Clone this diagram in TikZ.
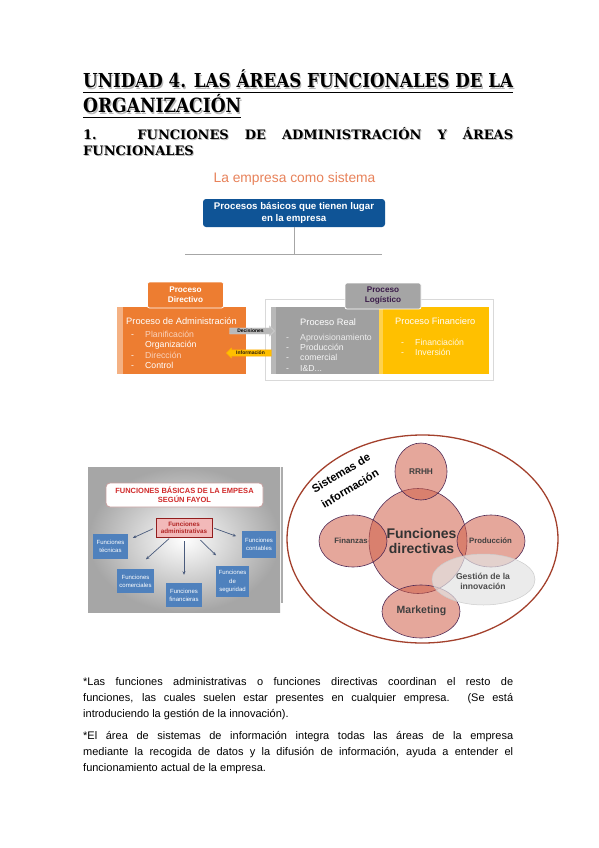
\documentclass[tikz,border=0pt]{standalone}
\usepackage{fontspec}
\setmainfont{Liberation Sans}
\newfontfamily\headfont{DejaVu Serif}
\usetikzlibrary{shapes.arrows,shapes.geometric,arrows.meta}
\definecolor{orgtitle}{HTML}{E8825A}
\definecolor{boxblue}{HTML}{0F5496}
\definecolor{orangeA}{HTML}{ED7D31}
\definecolor{orangeL}{HTML}{F4B183}
\definecolor{grayA}{HTML}{A5A5A5}
\definecolor{grayR}{HTML}{A0A0A0}
\definecolor{grayL}{HTML}{B8B8B8}
\definecolor{yellowA}{HTML}{FFC000}
\definecolor{yellowL}{HTML}{FFD24D}
\definecolor{logtext}{HTML}{3B1C4A}
\definecolor{fblue}{HTML}{4F81BD}
\definecolor{fred}{HTML}{D02A2A}
\definecolor{fpink}{HTML}{F2B9B9}
\definecolor{farrow}{HTML}{4A5B7C}
\definecolor{ringc}{HTML}{A3402C}
\definecolor{circfill}{HTML}{D0604A}
\definecolor{circline}{HTML}{4F2A55}
\definecolor{fadetext}{HTML}{F9D2BC}
\begin{document}
\begin{tikzpicture}[x=1pt,y=-1pt,
  head/.style={inner sep=0pt, anchor=base west, font=\headfont\bfseries},
  body/.style={inner sep=0pt, anchor=north west, text width=430pt, align=justify, font=\fontsize{11}{16}\selectfont},
  conn/.style={draw=gray!70, line width=0.8pt},
  bluebox/.style={rectangle, rounded corners=3pt, fill=boxblue, text=white, font=\bfseries\fontsize{9.7}{11.5}\selectfont, align=center, minimum width=182pt, minimum height=28pt, inner sep=0pt},
  tabbox/.style={rectangle, rounded corners=2pt, draw=white, line width=0.8pt, font=\bfseries\fontsize{8.2}{10}\selectfont, align=center, minimum width=76pt, minimum height=26pt, inner sep=0pt},
  panel/.style={rectangle, minimum height=67pt, inner sep=0pt},
  ptitle/.style={inner sep=0pt, anchor=base west, font=\fontsize{9.3}{11}\selectfont},
  pitem/.style={inner sep=0pt, anchor=base west, font=\fontsize{8.7}{10}\selectfont},
  flow/.style={single arrow, single arrow head extend=2pt, minimum height=45pt, inner sep=1pt, font=\bfseries\fontsize{5}{6}\selectfont},
  ftitle/.style={rectangle, rounded corners=4pt, fill=white, draw=fred!40!gray!60, line width=0.8pt, text=fred, font=\bfseries\fontsize{7.5}{9}\selectfont, align=center, minimum width=157pt, minimum height=24pt, inner sep=0pt},
  fadm/.style={rectangle, fill=fpink, draw=fred!70!black, line width=0.5pt, text=fred!85!black, font=\bfseries\fontsize{6.3}{7.5}\selectfont, align=center, minimum width=56pt, minimum height=19pt, inner sep=0pt},
  fbox/.style={rectangle, fill=fblue, text=white, font=\fontsize{6}{8.3}\selectfont, align=center, inner sep=0pt},
  farr/.style={draw=farrow, line width=0.7pt, -{Stealth[length=3.5pt,width=3pt]}},
  ring/.style={ellipse, draw=ringc, line width=1.3pt, fill=white, inner sep=0pt},
  circ/.style={ellipse, draw=circline, line width=0.6pt, fill=circfill, fill opacity=0.55, inner sep=0pt},
  gest/.style={ellipse, draw=gray!40, line width=0.5pt, fill=gray!22, fill opacity=0.7, inner sep=0pt},
  clab/.style={inner sep=0pt, text=black!75, font=\bfseries\fontsize{7.8}{9}\selectfont, align=center},
  sislab/.style={inner sep=0pt, rotate=31, font=\bfseries\fontsize{11.3}{13}\selectfont}
]
\useasboundingbox[fill=white] (0,0) rectangle (599,848);

% ---------- headings ----------
\node[head, text=gray!55] (h1s) at (84.2,89.2) {\resizebox{430pt}{!}{\scalebox{1}[1.15]{UNIDAD 4. LAS ÁREAS FUNCIONALES DE LA}}};
\node[head] (h1) at (83,88) {\resizebox{430pt}{!}{\scalebox{1}[1.15]{UNIDAD 4. LAS ÁREAS FUNCIONALES DE LA}}};
\node[head, text=gray!55] (h2s) at (84.2,114.2) {\resizebox{158pt}{!}{\scalebox{1}[1.15]{ORGANIZACIÓN}}};
\node[head] (h2) at (83,113) {\resizebox{158pt}{!}{\scalebox{1}[1.15]{ORGANIZACIÓN}}};
\coordinate (u1a) at (83,92.5); \coordinate (u1b) at (513,92.5);
\coordinate (u2a) at (83,117.5); \coordinate (u2b) at (241,117.5);
\draw[line width=1.3pt] (u1a) -- (u1b);
\draw[line width=1.3pt] (u2a) -- (u2b);
\node[inner sep=0pt, anchor=north west, text width=430pt, align=justify, text=gray!55, font=\headfont\bfseries\fontsize{13}{16}\selectfont] (h3s) at (84,127.8) {1. FUNCIONES DE ADMINISTRACIÓN Y ÁREAS\linebreak FUNCIONALES};
\node[inner sep=0pt, anchor=north west, text width=430pt, align=justify, font=\headfont\bfseries\fontsize{13}{16}\selectfont] (h3) at (83,127) {1. FUNCIONES DE ADMINISTRACIÓN Y ÁREAS\linebreak FUNCIONALES};

% ---------- la empresa como sistema ----------
\node[inner sep=0pt, text=orgtitle, font=\fontsize{13.8}{16}\selectfont] (sys) at (294.5,178.5) {La empresa como sistema};
\node[bluebox] (pb) at (294,213) {Procesos básicos que tienen lugar\\en la empresa};
\coordinate (hm) at (294,254);
\coordinate (hl) at (185,254);
\coordinate (hr) at (382,254);
\draw[conn] (pb.south) -- (hm);
\draw[conn] (hl) -- (hr);

\node[rectangle, draw=gray!30, line width=0.6pt, fill=white, minimum width=228pt, minimum height=81pt, inner sep=0pt] (frame) at (379,339.5) {};

\node[panel, fill=orangeA, minimum width=129pt] (adm) at (181.5,340.5) {};
\fill[orangeL] (117,307) rectangle (122.5,374);
\node[panel, fill=grayR, minimum width=108pt] (real) at (325,340.5) {};
\fill[grayL] (271,307) rectangle (275.5,374);
\node[panel, fill=yellowA, minimum width=110pt] (fin) at (434,340.5) {};
\fill[yellowL] (379,307) rectangle (383,374);

\node[tabbox, fill=orangeA, text=white] (pdir) at (185.5,295) {Proceso\\Directivo};
\node[tabbox, fill=grayA, text=logtext] (plog) at (383,296) {Proceso\\Logístico};

\node[ptitle, text=white] (admt) at (126,324.5) {Proceso de Administración};
\node[pitem, text=white] (adb1) at (131,337) {-};
\node[pitem, text=fadetext] (adi1) at (145,337) {Planificación};
\node[pitem, text=white] (adi2) at (145,347.5) {Organización};
\node[pitem, text=white] (adb3) at (131,358) {-};
\node[pitem, text=fadetext] (adi3) at (145,358) {Dirección};
\node[pitem, text=white] (adb4) at (131,368.5) {-};
\node[pitem, text=white] (adi4) at (145,368.5) {Control};

\node[ptitle, text=white] (realt) at (300,325) {Proceso Real};
\node[pitem, text=white!85!gray] (rb1) at (286,340) {-};
\node[pitem, text=white!85!gray] (ri1) at (300,340) {Aprovisionamiento};
\node[pitem, text=white!92!gray] (rb2) at (286,350) {-};
\node[pitem, text=white!92!gray] (ri2) at (300,350) {Producción};
\node[pitem, text=white!92!gray] (rb3) at (286,360.5) {-};
\node[pitem, text=white!92!gray] (ri3) at (300,360.5) {comercial};
\node[pitem, text=white!92!gray] (rb4) at (286,371) {-};
\node[pitem, text=white!92!gray] (ri4) at (300,371) {I\&D...};

\node[ptitle, text=white] (fint) at (395,324.5) {Proceso Financiero};
\node[pitem, text=white] (fb1) at (401,345) {-};
\node[pitem, text=white!90!yellowA] (fi1) at (415,345) {Financiación};
\node[pitem, text=white] (fb2) at (401,355.5) {-};
\node[pitem, text=white!90!yellowA] (fi2) at (415,355.5) {Inversión};

\node[flow, fill=gray!55, draw=gray!35, text=black] (dec) at (250.5,331) {Decisiones};
\node[flow, fill=yellowA, draw=yellowA!70!orange, text=black!80!brown, shape border rotate=180] (inf) at (250.5,353) {Información};

% ---------- Fayol ----------
\shade[inner color=white, outer color=gray!70] (88,467) rectangle (280,612);
\node[ftitle] (ft0) at (184.5,495) {FUNCIONES BÁSICAS DE LA EMPESA\\SEGÚN FAYOL};
\node[fadm] (fa) at (184,527.5) {Funciones\\administrativas};
\node[fbox, minimum width=35pt, minimum height=25pt] (ft) at (110.5,546.5) {Funciones\\técnicas};
\node[fbox, minimum width=37pt, minimum height=24pt] (fc) at (135.5,581) {Funciones\\comerciales};
\node[fbox, minimum width=36pt, minimum height=24pt] (ff) at (184,595) {Funciones\\financieras};
\node[fbox, minimum width=33pt, minimum height=31pt] (fs) at (232.5,581.5) {Funciones\\de\\seguridad};
\node[fbox, minimum width=34pt, minimum height=27pt] (fco) at (259,544.5) {Funciones\\contables};
\draw[farr, shorten <=3pt, shorten >=5pt] (fa.west) -- (ft.20);
\draw[farr, shorten <=2pt, shorten >=14pt] (fa.216) -- (fc.north);
\draw[farr, shorten <=4pt, shorten >=8pt] (fa.south) -- (ff.north);
\draw[farr, shorten <=4pt, shorten >=15pt] (fa.324) -- (fs.110);
\draw[farr, shorten <=2pt, shorten >=6pt] (fa.east) -- (fco.160);

% ---------- circle diagram ----------
\draw[gray!65, line width=1.2pt] (282,467) -- (282,603);
\node[ring, minimum width=271pt, minimum height=208pt] (rg) at (422.5,539) {};
\node[circ, minimum width=98pt, minimum height=105pt] (cfd) at (418,541) {};
\node[circ, minimum width=52pt, minimum height=57pt] (crh) at (421,471.5) {};
\node[circ, minimum width=68pt, minimum height=52pt] (cfi) at (353,541) {};
\node[circ, minimum width=68pt, minimum height=52pt] (cpr) at (491,541) {};
\node[circ, minimum width=78pt, minimum height=53pt] (cmk) at (421,611.5) {};
\node[gest, minimum width=103pt, minimum height=51pt] (cge) at (483.5,579.5) {};

\node[inner sep=0pt, text=black!80, align=center, font=\bfseries\fontsize{14}{15}\selectfont] (tfd) at (421.5,541) {Funciones\\directivas};
\node[clab, font=\bfseries\fontsize{8.3}{9}\selectfont] (trh) at (421,471.5) {RRHH};
\node[clab] (tfi) at (351,541) {Finanzas};
\node[clab] (tpr) at (490.5,541) {Producción};
\node[clab, font=\bfseries\fontsize{10.5}{12}\selectfont] (tmk) at (421.5,611) {Marketing};
\node[clab, text=black!70, font=\bfseries\fontsize{8.6}{10.5}\selectfont] (tge) at (483,581.5) {Gestión de la\\innovación};
\node[sislab] (tsi1) at (341,473) {Sistemas de};
\node[sislab] (tsi2) at (350,488.5) {información};

% ---------- body text ----------
\node[body] (p1) at (83,677) {*Las funciones administrativas o funciones directivas coordinan el resto de\linebreak funciones, las cuales suelen estar presentes en cualquier empresa. (Se está\linebreak introduciendo la gestión de la innovación).};
\node[body] (p2) at (83,731) {*El área de sistemas de información integra todas las áreas de la empresa\linebreak mediante la recogida de datos y la difusión de información, ayuda a entender el\linebreak funcionamiento actual de la empresa.};
\end{tikzpicture}
\end{document}
